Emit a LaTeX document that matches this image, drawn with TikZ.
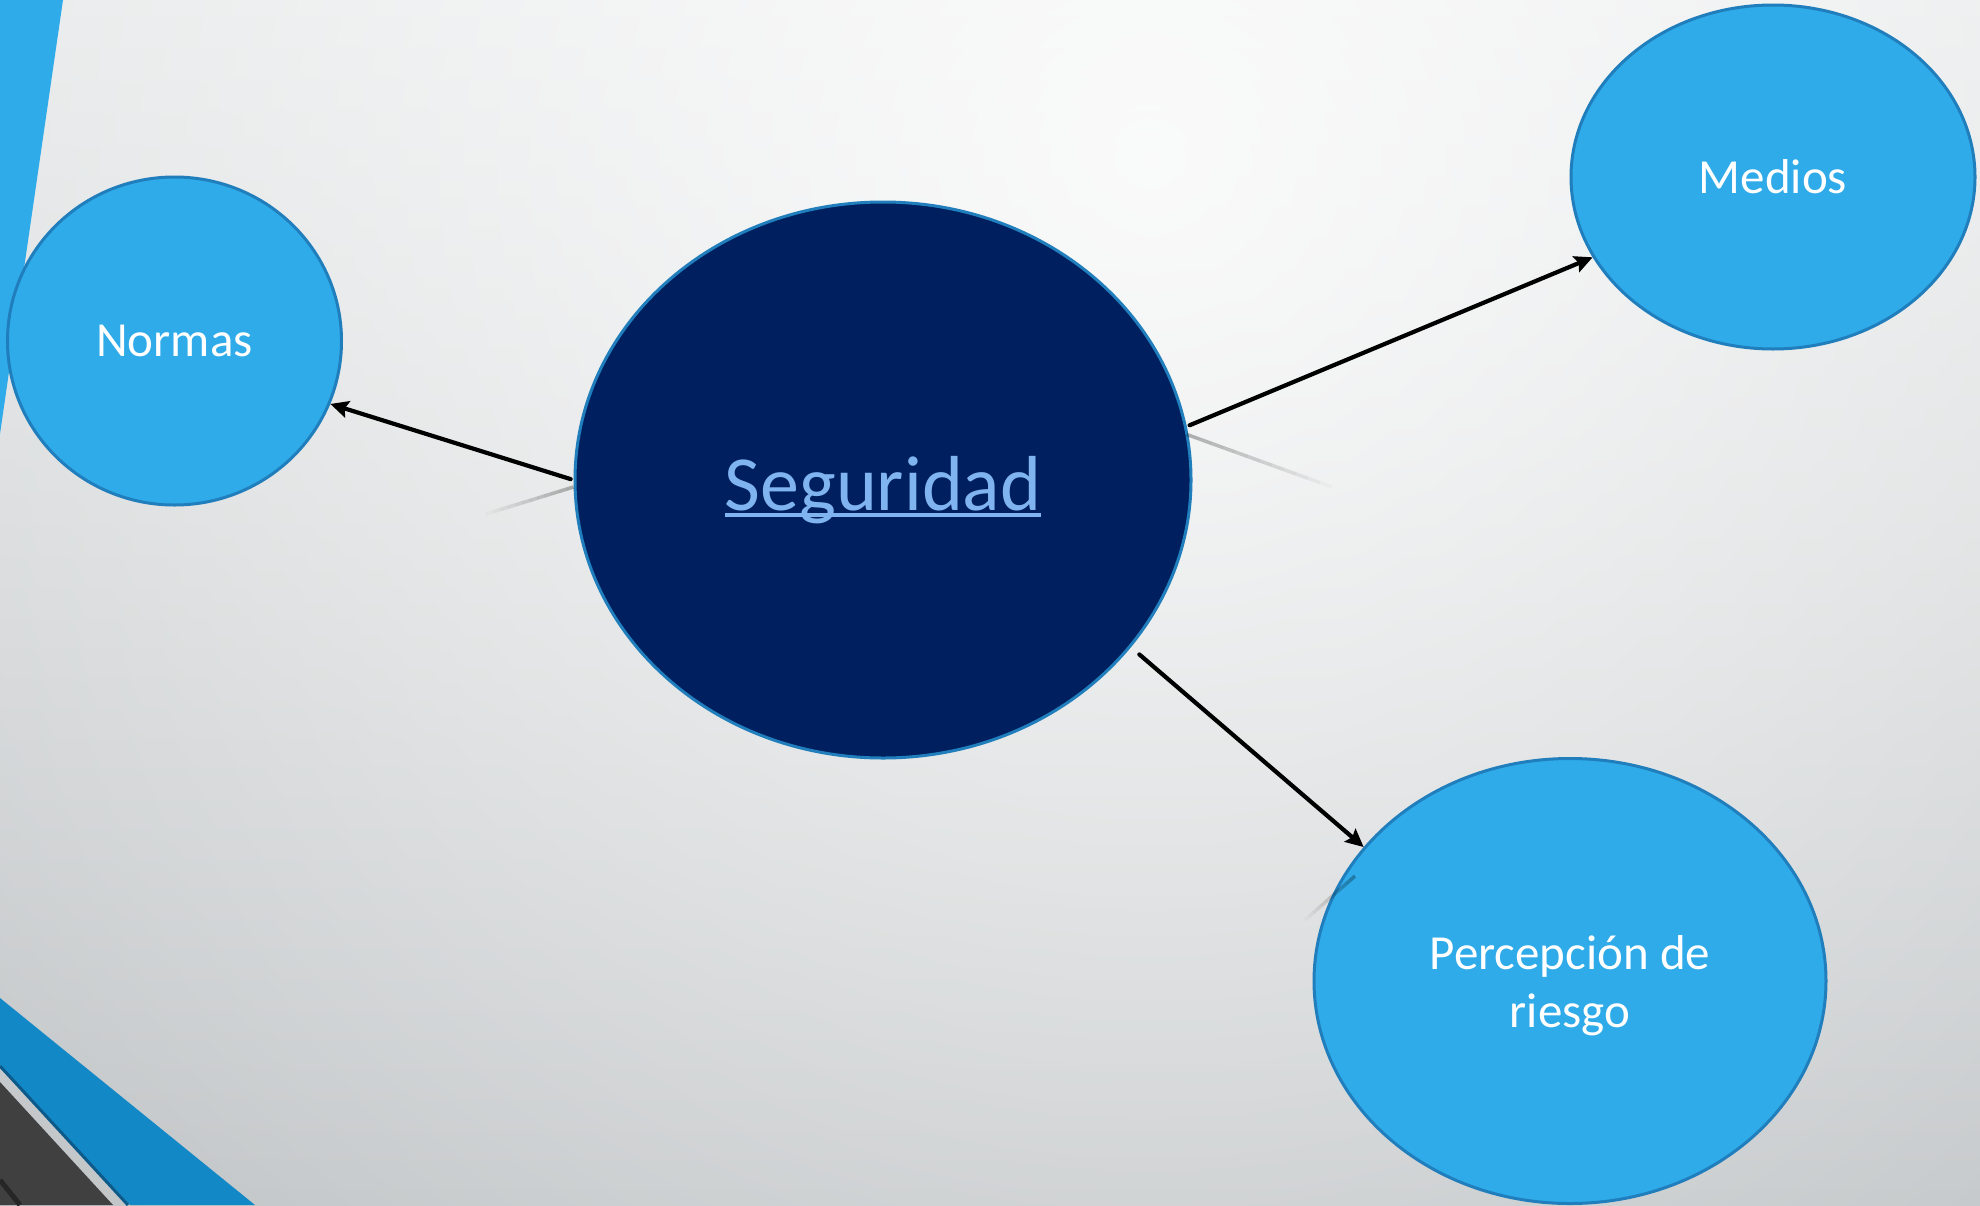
\documentclass[tikz,border=0pt]{standalone}
\usepackage{fontspec}
\setmainfont{Carlito}
\usetikzlibrary{shapes.geometric,arrows.meta,fadings,calc}
\tikzfading[name=glowfade, inner color=transparent!0, outer color=transparent!100]
\definecolor{bgtop}{HTML}{E4E6E7}
\definecolor{bgmid}{HTML}{E3E5E6}
\definecolor{bgbot}{HTML}{BCC0C2}
\definecolor{cblue}{HTML}{2FABEA}
\definecolor{cedge}{HTML}{1F7EBB}
\definecolor{navy}{HTML}{001F5F}
\definecolor{segtext}{HTML}{80B4F0}
\definecolor{bandblue}{HTML}{1288C7}
\definecolor{bandedge}{HTML}{0B5A8A}
\definecolor{dgray}{HTML}{404040}
\newcommand\segul[1]{\setbox0\hbox{#1}\rlap{\rule[-7pt]{\wd0}{3.8pt}}\box0}
\newcommand\reflline[2]{%
  \foreach \i in {0,...,11}{%
    \pgfmathsetmacro\ta{\i/12}%
    \pgfmathsetmacro\tb{(\i+1)/12}%
    \pgfmathsetmacro\op{0.28*(1-\i/12)}%
    \draw[refl, opacity=\op] ($(#1)!\ta!(#2)$) -- ($(#1)!\tb!(#2)$);}}
\begin{document}
\begin{tikzpicture}[x=1pt,y=-1pt,
  bub/.style={ellipse, fill=cblue, draw=cedge, line width=3pt, inner sep=0pt,
    text=white, align=center, font=\fontsize{49}{58}\selectfont},
  core/.style={ellipse, fill=navy, draw=cedge, line width=3pt, inner sep=0pt,
    text=segtext, font=\fontsize{78}{94}\selectfont, text height=60pt, text depth=0pt},
  conn/.style={line width=4.2pt, line cap=round, shorten <=3pt,
    -{Stealth[length=18pt,width=17pt,inset=3pt]}},
  refl/.style={line width=3.5pt, draw=black}]
\useasboundingbox (0,0) rectangle (1980,1205);
\begin{scope}
\clip (0,0) rectangle (1980,1205);
\shade[top color=bgtop, middle color=bgmid, bottom color=bgbot] (0,0) rectangle (1980,1205);
\fill[white, path fading=glowfade, fill opacity=0.85] (1150,160) circle (1650);
% corner bands
\fill[cblue] (0,0) -- (63,0) -- (0,434) -- cycle;
\fill[bandblue] (0,998) -- (255,1205) -- (130,1205) -- (0,1065) -- cycle;
\draw[bandedge, line width=3pt] (0,1066) -- (128,1205);
\fill[dgray] (0,1082) -- (113,1205) -- (0,1205) -- cycle;
\draw[black!85, line width=5pt] (0,1180) -- (20,1205);
\end{scope}
% nodes
\node[core, minimum width=616pt, minimum height=556pt] (seg) at (883,480) {\segul{Seguridad}};
\node[bub, minimum width=334pt, minimum height=328pt] (normas) at (174.5,341) {Normas};
\node[bub, minimum width=404pt, minimum height=344pt] (medios) at (1773,177) {Medios};
\node[bub, minimum width=512pt, minimum height=445pt, text depth=0pt] (perc) at (1570,981) {Percepción de\\riesgo};
% reflections
\coordinate (s1) at ([yshift=-7pt]seg.west);
\coordinate (r1) at (486,514);
\coordinate (s2) at ([yshift=-8pt]seg.10);
\coordinate (r2) at (1332,487);
\coordinate (s3) at (1355,876);
\coordinate (r3) at (1305,920);
\reflline{s1}{r1}
\reflline{s2}{r2}
\reflline{s3}{r3}
% connectors
\draw[conn] (seg.west) -- (normas.-22);
\draw[conn] (seg.10) -- (medios.204);
\draw[conn, shorten <=11pt] (seg.-34) -- (perc.147);
\end{tikzpicture}
\end{document}
